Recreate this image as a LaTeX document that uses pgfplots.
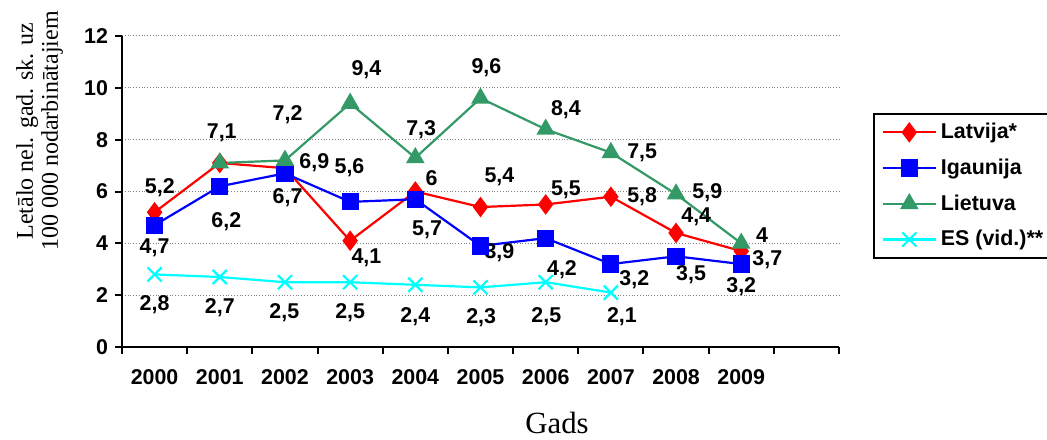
\documentclass[border=0pt]{standalone}
\usepackage{fontspec}
\setmainfont{Liberation Sans}
\newfontfamily\timesf{Liberation Serif}
\usepackage{pgfplots}
\pgfplotsset{compat=1.18}
\definecolor{lvred}{RGB}{255,0,0}
\definecolor{eeblue}{RGB}{0,0,255}
\definecolor{ltgreen}{RGB}{51,153,102}
\definecolor{escyan}{RGB}{0,255,255}
\begin{document}
\begin{tikzpicture}[x=1pt,y=1pt, lbl/.style={font=\fontsize{10.7}{12}\selectfont\bfseries, inner sep=0pt}]
\useasboundingbox (0,0) rectangle (523.5,219.5);
\begin{axis}[
  at={(61pt,46pt)}, anchor=south west,
  scale only axis, width=358.5pt, height=155.5pt,
  xmin=-0.5, xmax=10.5, ymin=0, ymax=12,
  axis x line*=bottom, axis y line*=left,
  axis line style={line width=1.2pt, -},
  xtick={0,...,9},
  xticklabels={2000,2001,2002,2003,2004,2005,2006,2007,2008,2009},
  major x tick style={draw=none},
  minor xtick={-0.5,0.5,...,10.5},
  ytick={0,2,...,12},
  tick align=outside,
  major tick length=3.5pt, minor tick length=3.5pt,
  every tick/.style={black, line width=1pt},
  ymajorgrids,
  grid style={gray, densely dotted, line width=0.5pt},
  /pgf/number format/assume math mode=true,
  ticklabel style={font=\fontsize{10.7}{12}\selectfont\bfseries},
  xticklabel style={yshift=-4pt},
  clip=false,
  legend style={at={(1.047,0.752)}, anchor=north west, draw=black, line width=1pt,
    font=\fontsize{10.7}{12}\selectfont\bfseries, row sep=4.6pt, inner xsep=4pt, inner ysep=2.5pt,
    cells={anchor=west}},
  legend image code/.code={\draw[mark repeat=2,mark phase=2] plot coordinates {(0pt,0pt)(13.25pt,0pt)(26.5pt,0pt)};},
  legend cell align=left,
]
\addplot[lvred, line width=1.1pt, mark=diamond*, mark size=4.25pt, mark options={solid, fill=lvred}]
  coordinates {(0,5.2)(1,7.1)(2,6.9)(3,4.1)(4,6.0)(5,5.4)(6,5.5)(7,5.8)(8,4.4)(9,3.7)};
\addlegendentry{Latvija*}
\addplot[eeblue, line width=1.1pt, mark=square*, mark size=3.75pt, mark options={solid, fill=eeblue}]
  coordinates {(0,4.7)(1,6.2)(2,6.7)(3,5.6)(4,5.7)(5,3.9)(6,4.2)(7,3.2)(8,3.5)(9,3.2)};
\addlegendentry{Igaunija}
\addplot[ltgreen, line width=1.1pt, mark=triangle*, mark size=4.3pt, mark options={solid, fill=ltgreen}]
  coordinates {(1,7.1)(2,7.2)(3,9.4)(4,7.3)(5,9.6)(6,8.4)(7,7.5)(8,5.9)(9,4.0)};
\addlegendentry{Lietuva}
\addplot[escyan, line width=1.1pt, mark=x, mark size=5pt, mark options={solid, line width=1.1pt}]
  coordinates {(0,2.8)(1,2.7)(2,2.5)(3,2.5)(4,2.4)(5,2.3)(6,2.5)(7,2.1)};
\addlegendentry{ES (vid.)**}
% data labels
\node[lbl] at (axis cs:0.08,6.14) {5,2};
\node[lbl] at (axis cs:1.03,8.26) {7,1};
\node[lbl] at (axis cs:2.04,8.95) {7,2};
\node[lbl] at (axis cs:2.45,7.10) {6,9};
\node[lbl] at (axis cs:2.99,6.91) {5,6};
\node[lbl] at (axis cs:3.25,10.69) {9,4};
\node[lbl] at (axis cs:2.04,5.75) {6,7};
\node[lbl] at (axis cs:1.10,4.82) {6,2};
\node[lbl] at (axis cs:0.00,3.82) {4,7};
\node[lbl] at (axis cs:4.09,8.37) {7,3};
\node[lbl] at (axis cs:4.25,6.52) {6};
\node[lbl] at (axis cs:4.18,4.51) {5,7};
\node[lbl] at (axis cs:3.25,3.44) {4,1};
\node[lbl] at (axis cs:5.29,6.56) {5,4};
\node[lbl] at (axis cs:5.09,10.76) {9,6};
\node[lbl] at (axis cs:6.31,9.14) {8,4};
\node[lbl] at (axis cs:6.31,6.06) {5,5};
\node[lbl] at (axis cs:7.48,7.49) {7,5};
\node[lbl] at (axis cs:7.48,5.79) {5,8};
\node[lbl] at (axis cs:8.48,5.94) {5,9};
\node[lbl] at (axis cs:8.31,5.02) {4,4};
\node[lbl] at (axis cs:9.32,4.32) {4};
\node[lbl] at (axis cs:9.40,3.36) {3,7};
\node[lbl] at (axis cs:9.00,2.32) {3,2};
\node[lbl] at (axis cs:8.23,2.78) {3,5};
\node[lbl] at (axis cs:7.36,2.59) {3,2};
\node[lbl] at (axis cs:7.17,1.16) {2,1};
\node[lbl] at (axis cs:6.25,2.97) {4,2};
\node[lbl] at (axis cs:6.01,1.16) {2,5};
\node[lbl] at (axis cs:5.29,3.62) {3,9};
\node[lbl] at (axis cs:0.00,1.62) {2,8};
\node[lbl] at (axis cs:1.00,1.50) {2,7};
\node[lbl] at (axis cs:1.99,1.31) {2,5};
\node[lbl] at (axis cs:3.00,1.31) {2,5};
\node[lbl] at (axis cs:4.00,1.16) {2,4};
\node[lbl] at (axis cs:5.01,1.12) {2,3};
\end{axis}
\node[rotate=90, align=center, font=\timesf\fontsize{12}{12.5}\selectfont, inner sep=0pt] at (19.75,154) {Letālo nel. gad. sk. uz\\100 000 nodarbinātajiem};
\node[anchor=base, font=\timesf\fontsize{15.4}{16}\selectfont, inner sep=0pt] at (278.5,3) {Gads};
\end{tikzpicture}
\end{document}
